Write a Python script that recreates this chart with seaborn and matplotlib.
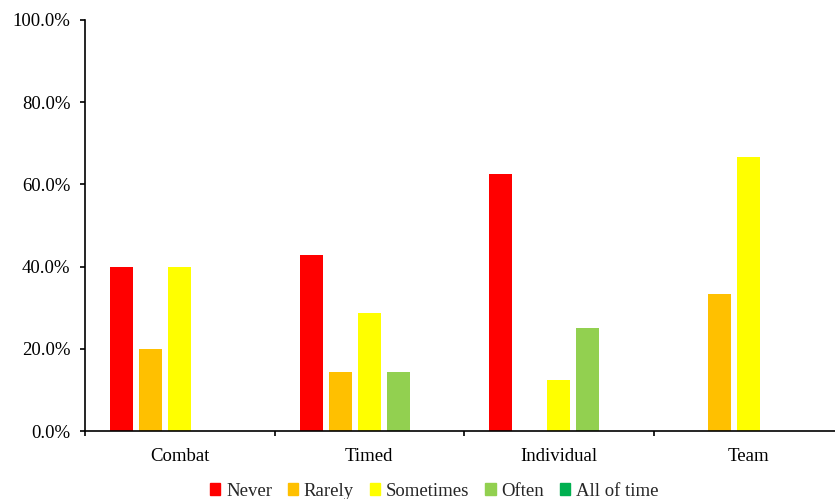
import matplotlib
matplotlib.use("Agg")
import matplotlib.pyplot as plt
import matplotlib.patches as mpatches
from matplotlib.ticker import FuncFormatter, FixedLocator, NullFormatter
import seaborn as sns
import pandas as pd

# Survey responses per game type (share of respondents)
categories = ["Combat", "Timed", "Individual", "Team"]
frequency = ["Never", "Rarely", "Sometimes", "Often", "All of time"]
never = [0.400, 0.429, 0.625, 0.000]
rarely = [0.200, 0.143, 0.000, 0.333]
sometimes = [0.400, 0.286, 0.125, 0.667]
often = [0.000, 0.143, 0.250, 0.000]
all_of_time = [0.000, 0.000, 0.000, 0.000]
colors = ["#FF0000", "#FFC000", "#FFFF00", "#92D050", "#00B050"]

series = [never, rarely, sometimes, often, all_of_time]
rows = []
for name, vals in zip(frequency, series):
    for cat, v in zip(categories, vals):
        rows.append({"category": cat, "frequency": name, "share": v})
df = pd.DataFrame(rows)

sns.set_theme(style="white")
plt.rcParams["font.family"] = ["Liberation Serif", "DejaVu Serif"]

FS = 13.5

fig = plt.figure(figsize=(8.35, 4.99), dpi=100)
# plot area runs slightly past the right edge of the figure
ax = fig.add_axes([85 / 835, 68 / 499, 758 / 835, 411 / 499])

sns.barplot(data=df, x="category", y="share", hue="frequency",
            order=categories, hue_order=frequency, palette=colors,
            width=0.765, gap=0.2, saturation=1, linewidth=0,
            legend=False, ax=ax)

ax.set_ylim(0, 1.0)
ax.set_xlim(-0.5, 3.5)
ax.yaxis.set_major_locator(FixedLocator([0, 0.2, 0.4, 0.6, 0.8, 1.0]))
ax.yaxis.set_major_formatter(FuncFormatter(lambda v, p: f"{v * 100:.1f}%"))
ax.tick_params(axis="y", direction="out", length=3.6, width=1.2, color="black",
               labelsize=FS, labelcolor="black", pad=7, left=True)

# Category labels centred, tick marks at group boundaries
ax.tick_params(axis="x", which="major", length=0, labelsize=FS,
               labelcolor="black", pad=12)
ax.xaxis.set_minor_locator(FixedLocator([-0.5, 0.5, 1.5, 2.5, 3.5]))
ax.xaxis.set_minor_formatter(NullFormatter())
ax.tick_params(axis="x", which="minor", direction="out", length=3.6, width=1.2,
               color="black", bottom=True)
ax.set_xlabel("")
ax.set_ylabel("")

for side in ["top", "right"]:
    ax.spines[side].set_visible(False)
for side in ["left", "bottom"]:
    ax.spines[side].set_color("black")
    ax.spines[side].set_linewidth(1.2)

handles = [mpatches.Patch(color=c, label=l) for c, l in zip(colors, frequency)]
fig.legend(handles=handles, loc="lower center", bbox_to_anchor=(0.52, -0.035),
           ncol=5, frameon=False, fontsize=FS, handlelength=0.55,
           handleheight=0.6, handletextpad=0.3, columnspacing=0.85)

fig.savefig("out.png", dpi=100, facecolor="white")
